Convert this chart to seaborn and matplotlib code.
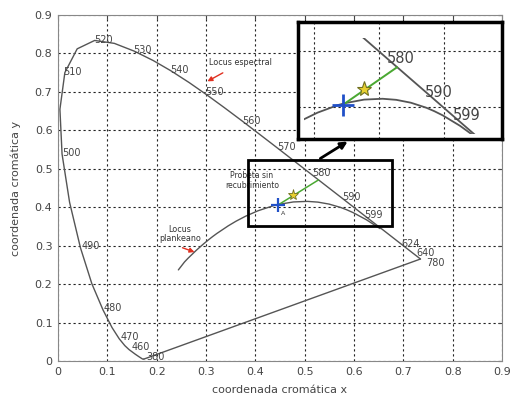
import numpy as np
import pandas as pd
import matplotlib
matplotlib.use("Agg")
import matplotlib.pyplot as plt
import seaborn as sns
from matplotlib.patches import Rectangle

# ---------------- data ----------------
locus_wl = [380, 420, 440, 450, 460, 465, 470, 475, 480, 485, 490, 495, 500, 505, 510,
            515, 520, 525, 530, 535, 540, 545, 550, 555, 560, 565, 570, 575, 580, 585,
            590, 595, 600, 610, 620, 630, 640, 650, 660, 680, 700, 780]
locus_x = [0.1741, 0.1714, 0.1644, 0.1566, 0.1440, 0.1355, 0.1241, 0.1096, 0.0913, 0.0687,
           0.0454, 0.0235, 0.0082, 0.0039, 0.0139, 0.0389, 0.0743, 0.1142, 0.1547, 0.1929,
           0.2296, 0.2658, 0.3016, 0.3373, 0.3731, 0.4087, 0.4441, 0.4788, 0.5125, 0.5448,
           0.5752, 0.6029, 0.6270, 0.6658, 0.6915, 0.7079, 0.7190, 0.7260, 0.7300, 0.7334,
           0.7347, 0.7347]
locus_y = [0.0050, 0.0051, 0.0109, 0.0177, 0.0297, 0.0399, 0.0578, 0.0868, 0.1327, 0.2007,
           0.2950, 0.4127, 0.5384, 0.6548, 0.7502, 0.8120, 0.8338, 0.8262, 0.8059, 0.7816,
           0.7543, 0.7243, 0.6923, 0.6589, 0.6245, 0.5896, 0.5547, 0.5202, 0.4866, 0.4544,
           0.4242, 0.3965, 0.3725, 0.3340, 0.3083, 0.2920, 0.2809, 0.2740, 0.2700, 0.2666,
           0.2653, 0.2653]
# line of purples (closing segment)
purple_x = [0.1741, 0.7347]
purple_y = [0.0050, 0.2653]

planck_x = [0.2440, 0.2565, 0.2637, 0.2807, 0.2952, 0.3064, 0.3135, 0.3221, 0.3451, 0.3608,
            0.3805, 0.4053, 0.4369, 0.4476, 0.4770, 0.5056, 0.5267, 0.5493, 0.5732, 0.5857,
            0.5985, 0.6251, 0.6528]
planck_y = [0.2370, 0.2577, 0.2674, 0.2884, 0.3048, 0.3166, 0.3237, 0.3318, 0.3516, 0.3636,
            0.3768, 0.3907, 0.4041, 0.4074, 0.4137, 0.4152, 0.4133, 0.4082, 0.3993, 0.3931,
            0.3858, 0.3674, 0.3444]

label_text = ["380", "460", "470", "480", "490", "500", "510", "520", "530", "540", "550",
              "560", "570", "580", "590", "599", "624", "640", "780"]
label_x = [0.180, 0.150, 0.126, 0.092, 0.048, 0.008, 0.011, 0.073, 0.153, 0.227, 0.298,
           0.373, 0.444, 0.515, 0.576, 0.620, 0.697, 0.727, 0.746]
label_y = [0.010, 0.037, 0.063, 0.137, 0.298, 0.540, 0.752, 0.835, 0.810, 0.757, 0.700,
           0.625, 0.557, 0.490, 0.427, 0.380, 0.304, 0.281, 0.256]

inset_label_text = ["580", "590", "599"]
inset_label_x = [0.512, 0.571, 0.614]
inset_label_y = [0.486, 0.426, 0.386]

sample_x, sample_y = 0.445, 0.405        # punto A (cruz azul)
star_x, star_y = 0.477, 0.432            # estrella
dom_x = [0.445, 0.528]                   # linea verde hacia el locus
dom_y = [0.405, 0.471]

box_x0, box_y0, box_x1, box_y1 = 0.385, 0.352, 0.677, 0.523

ticks = [0, 0.1, 0.2, 0.3, 0.4, 0.5, 0.6, 0.7, 0.8, 0.9]
tick_labels = ["0", "0.1", "0.2", "0.3", "0.4", "0.5", "0.6", "0.7", "0.8", "0.9"]

# ---------------- style ----------------
sns.set_style("white")
plt.rcParams["font.family"] = ["DejaVu Sans"]

curve_color = "#555555"
grid_kw = dict(color="#222222", linestyle=(0, (2, 2.5)), linewidth=0.8)

fig = plt.figure(figsize=(5.15, 3.97), dpi=100)
ax = fig.add_axes([58 / 515, 1 - 361 / 397, 444 / 515, 346 / 397])

df_locus = pd.DataFrame({"x": locus_x, "y": locus_y})
df_planck = pd.DataFrame({"x": planck_x, "y": planck_y})
df_purple = pd.DataFrame({"x": purple_x, "y": purple_y})
df_dom = pd.DataFrame({"x": dom_x, "y": dom_y})


def draw_curves(a, lw, clip=None):
    lines = []
    for d, c, w in [(df_locus, curve_color, lw), (df_purple, curve_color, lw),
                    (df_planck, curve_color, lw), (df_dom, "#4aa832", lw * 1.1)]:
        n0 = len(a.lines)
        sns.lineplot(data=d, x="x", y="y", sort=False, estimator=None, ax=a,
                     color=c, linewidth=w, legend=False)
        lines.extend(a.lines[n0:])
    if clip is not None:
        for ln in lines:
            ln.set_clip_path(clip)


draw_curves(ax, 1.0)
ax.plot([sample_x], [sample_y], marker="+", color="#2050c8", markersize=10,
        markeredgewidth=1.6, zorder=5)
ax.plot([star_x], [star_y], marker="*", color="#e8d030", markeredgecolor="#707020",
        markersize=8, markeredgewidth=0.6, zorder=5)

for t, x, y in zip(label_text, label_x, label_y):
    ax.text(x, y, t, fontsize=7, color="#444444", ha="left", va="center")

ax.text(0.452, 0.383, "A", fontsize=4.5, color="#333333", ha="left", va="center")
ax.text(0.393, 0.469, "Probeta sin\nrecubrimiento", fontsize=5.5, color="#333333",
        ha="center", va="center", linespacing=1.2)
ax.text(0.306, 0.776, "Locus espectral", fontsize=5.8, color="#333333",
        ha="left", va="center")
ax.annotate("", xy=(0.298, 0.724), xytext=(0.339, 0.753),
            arrowprops=dict(arrowstyle="-|>", color="#e03020", lw=1.0, mutation_scale=7))
ax.text(0.247, 0.330, "Locus\nplankeano", fontsize=5.8, color="#333333",
        ha="center", va="center", linespacing=1.1)
ax.annotate("", xy=(0.282, 0.281), xytext=(0.247, 0.297),
            arrowprops=dict(arrowstyle="-|>", color="#e03020", lw=1.0, mutation_scale=7))

ax.add_patch(Rectangle((box_x0, box_y0), box_x1 - box_x0, box_y1 - box_y0,
                       fill=False, edgecolor="black", linewidth=2.0, zorder=6))

ax.set_xlim(0, 0.9)
ax.set_ylim(0, 0.9)
ax.set_xticks(ticks)
ax.set_xticklabels(tick_labels)
ax.set_yticks(ticks)
ax.set_yticklabels(tick_labels)
ax.grid(True, **grid_kw)
ax.tick_params(direction="in", top=True, right=True, length=3, labelsize=8,
               colors="#444444", labelcolor="#444444", pad=4)
for s in ax.spines.values():
    s.set_color("#888888")
    s.set_linewidth(0.8)
ax.set_xlabel("coordenada cromática x", fontsize=8, color="#444444", labelpad=6)
ax.set_ylabel("coordenada cromática y", fontsize=8, color="#444444", labelpad=10)

# arrow from box to inset
ax.annotate("", xy=(350 / 515, 1 - 140 / 397), xycoords="figure fraction",
            xytext=(0.527, box_y1), textcoords="data",
            arrowprops=dict(arrowstyle="-|>", color="black", lw=2.0, mutation_scale=10),
            zorder=7)

# ---------------- inset ----------------
ins = fig.add_axes([298 / 515, 1 - 139 / 397, 204 / 515, 117 / 397])
ins.set_xlim(0.375, 0.69)
ins.set_ylim(0.344, 0.551)
clip_rect = Rectangle((box_x0, box_y0), box_x1 - box_x0, box_y1 - box_y0,
                      transform=ins.transData)
draw_curves(ins, 1.3, clip=clip_rect)
ins.plot([sample_x], [sample_y], marker="+", color="#2050c8", markersize=16,
         markeredgewidth=2.0, zorder=5)
ins.plot([star_x], [star_y], marker="*", color="#e8d030", markeredgecolor="#707020",
         markersize=11, markeredgewidth=0.8, zorder=5)
for t, x, y in zip(inset_label_text, inset_label_x, inset_label_y):
    ins.text(x, y, t, fontsize=10.5, color="#444444", ha="left", va="center")
ins.set_xticks([0.4, 0.5, 0.6])
ins.set_yticks([0.4, 0.5])
ins.set_xticklabels([])
ins.set_yticklabels([])
ins.tick_params(length=0)
ins.grid(True, **grid_kw)
ins.set_xlabel("")
ins.set_ylabel("")
for s in ins.spines.values():
    s.set_color("black")
    s.set_linewidth(2.5)

fig.savefig("out.png", dpi=100)
